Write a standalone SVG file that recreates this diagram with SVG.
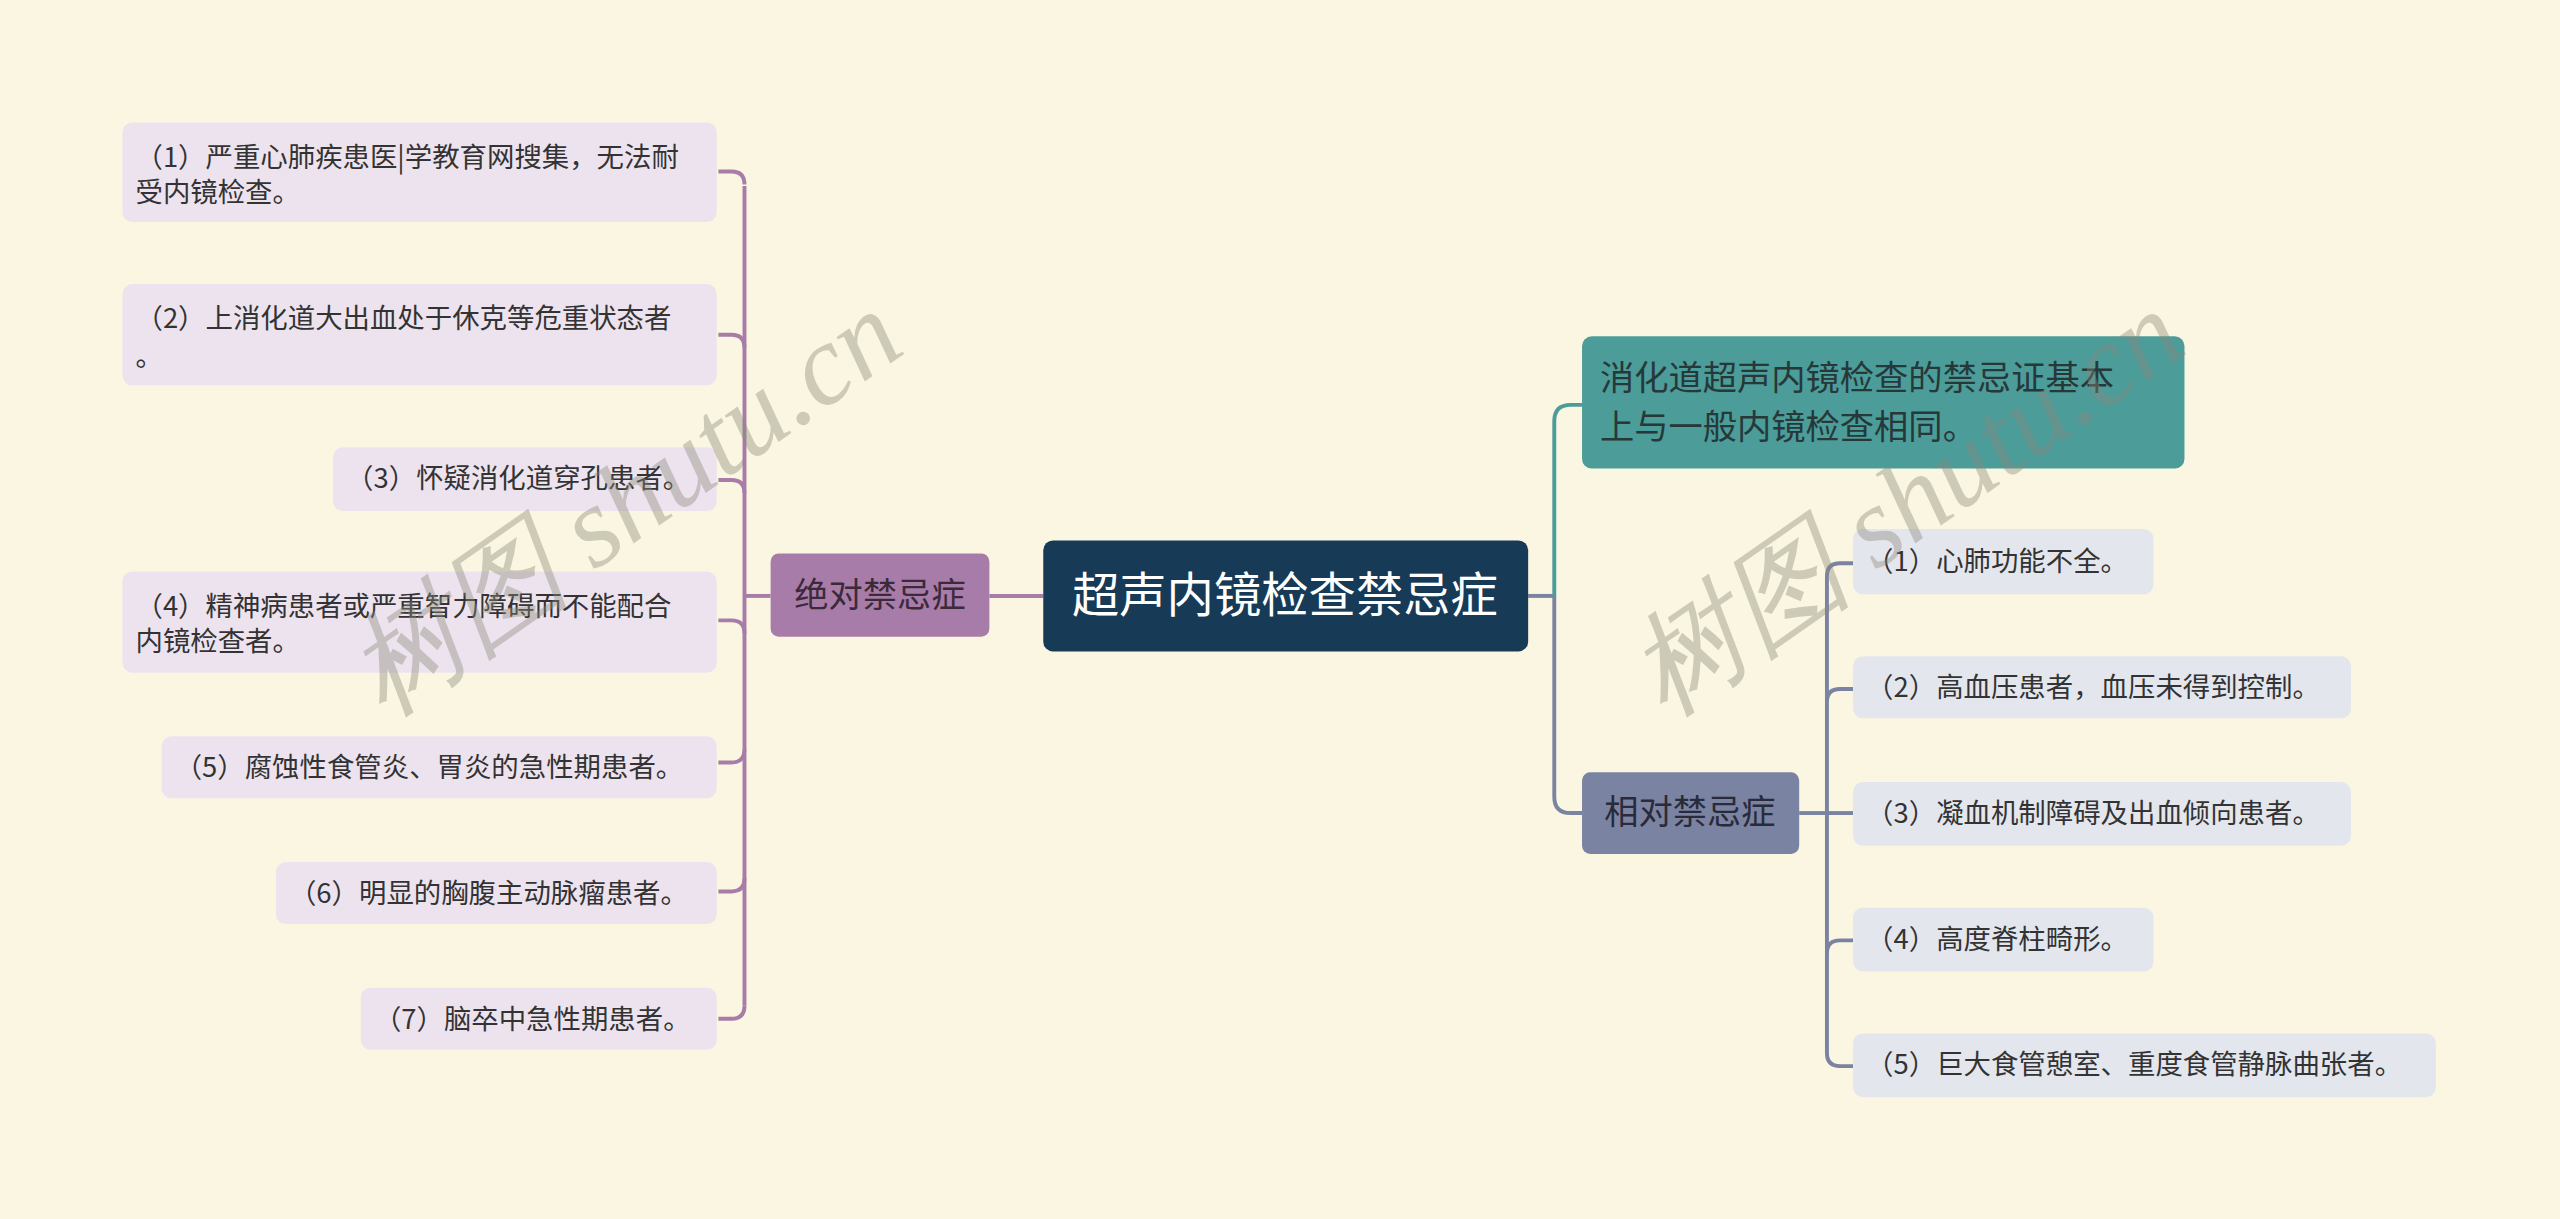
<svg xmlns="http://www.w3.org/2000/svg" width="2560" height="1219" viewBox="0 0 2560 1219">
<style>
text{font-family:"Noto Sans CJK SC","Noto Sans",sans-serif}
.leafL{fill:#ede3ef}
.leafR{fill:#e4e6ee}
.t16{font-size:16.8px;fill:#333}
.t20{font-size:21px}
.lp{fill:none;stroke:#a87ca9;stroke-width:2.4}
.lg{fill:none;stroke:#7a84a2;stroke-width:2.4}
.lt{fill:none;stroke:#4c9c9a;stroke-width:2.4}
.wm{font-family:"Liberation Serif",serif;font-style:italic;font-size:70px;fill:#8a8a7a;opacity:0.4}
</style>
<rect width="2560" height="1219" fill="#fbf6e1"/>
<g transform="scale(1.63265)">
<g id="connectors">
<path class="lp" d="M639 365H606"/>
<path class="lp" d="M472 365H456"/>
<path class="lp" d="M456 114V616"/>
<path class="lp" d="M440 105H448Q456 105 456 113"/>
<path class="lp" d="M440 205H448Q456 205 456 213"/>
<path class="lp" d="M440 294H448Q456 294 456 302"/>
<path class="lp" d="M440 380H448Q456 380 456 388"/>
<path class="lp" d="M440 467H448Q456 467 456 459"/>
<path class="lp" d="M440 546H448Q456 546 456 538"/>
<path class="lp" d="M440 624H448Q456 624 456 616"/>
<path class="lg" d="M936 365H952"/>
<path class="lt" d="M952 365V258Q952 248 962 248H969"/>
<path class="lg" d="M952 365V488Q952 498 962 498H969"/>
<path class="lg" d="M1102 498H1119"/>
<path class="lg" d="M1135 345H1127Q1119 345 1119 353V645Q1119 653 1127 653H1135"/>
<path class="lg" d="M1135 422H1127Q1119 422 1119 430"/>
<path class="lg" d="M1135 498H1119"/>
<path class="lg" d="M1135 576H1127Q1119 576 1119 584"/>
</g>
<g id="root"><rect x="639" y="331" width="297" height="68" rx="6" fill="#173a57"/><text x="787" y="375" font-size="29" fill="#fff" text-anchor="middle">超声内镜检查禁忌症</text></g>
<g id="absolute"><rect x="472" y="339" width="134" height="51" rx="5" fill="#a87ca9"/><text class="t20" x="539" y="372" fill="#3a2a3a" text-anchor="middle">绝对禁忌症</text></g>
<g id="a1"><rect class="leafL" x="75" y="75" width="364" height="61" rx="6"/><text class="t16" x="83" y="102">（1）严重心肺疾患医|学教育网搜集，无法耐</text><text class="t16" x="83" y="124">受内镜检查。</text></g>
<g id="a2"><rect class="leafL" x="75" y="174" width="364" height="62" rx="6"/><text class="t16" x="83" y="201">（2）上消化道大出血处于休克等危重状态者</text><text class="t16" x="83" y="224">。</text></g>
<g id="a3"><rect class="leafL" x="204" y="274" width="235" height="39" rx="6"/><text class="t16" x="212" y="299">（3）怀疑消化道穿孔患者。</text></g>
<g id="a4"><rect class="leafL" x="75" y="350" width="364" height="62" rx="6"/><text class="t16" x="83" y="377">（4）精神病患者或严重智力障碍而不能配合</text><text class="t16" x="83" y="399">内镜检查者。</text></g>
<g id="a5"><rect class="leafL" x="99" y="451" width="340" height="38" rx="6"/><text class="t16" x="107" y="476">（5）腐蚀性食管炎、胃炎的急性期患者。</text></g>
<g id="a6"><rect class="leafL" x="169" y="528" width="270" height="38" rx="6"/><text class="t16" x="177" y="553">（6）明显的胸腹主动脉瘤患者。</text></g>
<g id="a7"><rect class="leafL" x="221" y="605" width="218" height="38" rx="6"/><text class="t16" x="229" y="630">（7）脑卒中急性期患者。</text></g>
<g id="same"><rect x="969" y="206" width="369" height="81" rx="6" fill="#4c9c9a"/><text class="t20" x="980" y="239" fill="#263838">消化道超声内镜检查的禁忌证基本</text><text class="t20" x="980" y="269" fill="#263838">上与一般内镜检查相同。</text></g>
<g id="relative"><rect x="969" y="473" width="133" height="50" rx="5" fill="#7a84a2"/><text class="t20" x="1035" y="505" fill="#2a2a3a" text-anchor="middle">相对禁忌症</text></g>
<g id="r1"><rect class="leafR" x="1135" y="324" width="184" height="40" rx="6"/><text class="t16" x="1143" y="350">（1）心肺功能不全。</text></g>
<g id="r2"><rect class="leafR" x="1135" y="402" width="305" height="38" rx="6"/><text class="t16" x="1143" y="427">（2）高血压患者，血压未得到控制。</text></g>
<g id="r3"><rect class="leafR" x="1135" y="479" width="305" height="39" rx="6"/><text class="t16" x="1143" y="504">（3）凝血机制障碍及出血倾向患者。</text></g>
<g id="r4"><rect class="leafR" x="1135" y="556" width="184" height="39" rx="6"/><text class="t16" x="1143" y="581">（4）高度脊柱畸形。</text></g>
<g id="r5"><rect class="leafR" x="1135" y="633" width="357" height="39" rx="6"/><text class="t16" x="1143" y="658">（5）巨大食管憩室、重度食管静脉曲张者。</text></g>
<text class="wm" transform="translate(235 440) rotate(-35)">树图 shutu.cn</text>
<text class="wm" transform="translate(1020 440) rotate(-35)">树图 shutu.cn</text>
</g>
</svg>
